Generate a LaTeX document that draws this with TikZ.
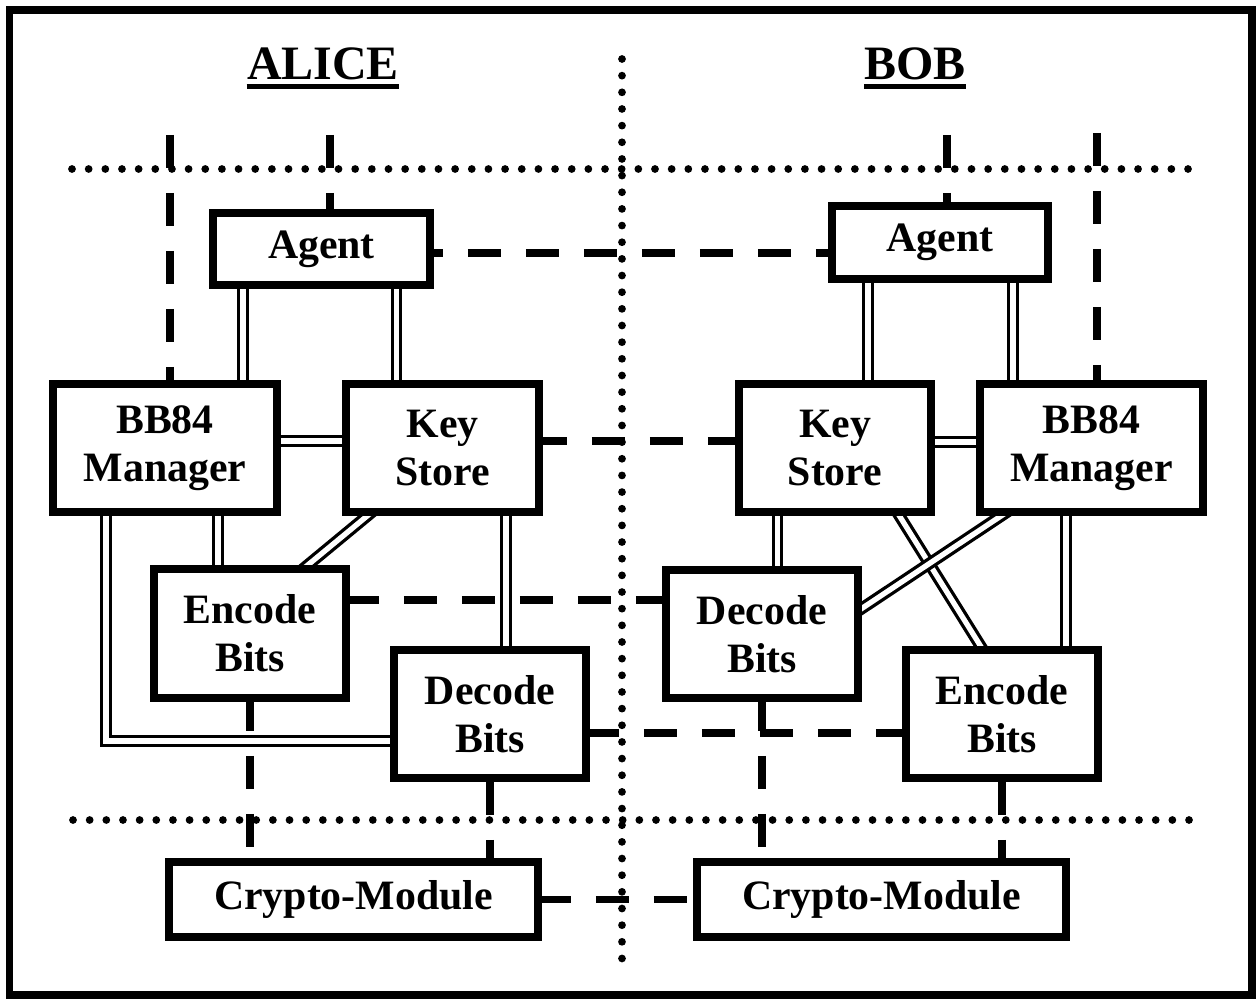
\documentclass[tikz,border=0pt]{standalone}
\usepackage{fontspec}
\setmainfont{Liberation Serif}
\usetikzlibrary{calc}
\pgfdeclarelayer{background}
\pgfsetlayers{background,main}
\begin{document}
\begin{tikzpicture}[x=0.02cm,y=-0.02cm,
  box/.style={draw,line width=0.145cm,fill=white,outer sep=0pt,inner sep=0pt,align=center,
    font=\fontsize{23.8pt}{27.3pt}\selectfont\bfseries},
  dbl/.style={double,line width=0.066cm,double distance=0.106cm,
    shorten <=-0.1cm,shorten >=-0.1cm},
  dsh/.style={line width=0.15cm,dash pattern=on 0.66cm off 0.5cm},
  dots/.style={line width=0.155cm,line cap=round,dash pattern=on 0pt off 0.3332cm},
  head/.style={font=\fontsize{27.3pt}{30pt}\selectfont\bfseries,inner sep=0pt,anchor=base}]
\useasboundingbox (0,0) rectangle (1258,1000);
\draw[line width=0.145cm] (9.5,10) rectangle (1252,995);

% headings
\node[head] (alice) at (323,80) {ALICE};
\node[head] (bob) at (915,80) {BOB};
\draw[line width=0.1cm] ($(alice.base west)+(0,6.5)$) -- ($(alice.base east)+(0,6.5)$);
\draw[line width=0.1cm] ($(bob.base west)+(0,6.5)$) -- ($(bob.base east)+(0,6.5)$);

% Alice boxes
\node[box,minimum width=4.34cm,minimum height=1.44cm] (aagent) at (321.5,249) {Agent};
\node[box,minimum width=4.48cm,minimum height=2.56cm] (abb) at (165,448) {BB84\\Manager};
\node[box,minimum width=3.86cm,minimum height=2.56cm] (aks) at (442.5,448) {Key\\Store};
\node[box,minimum width=3.84cm,minimum height=2.58cm] (aenc) at (250,633.5) {Encode\\Bits};
\node[box,minimum width=3.84cm,minimum height=2.56cm] (adec) at (490,714) {Decode\\Bits};
\node[box,minimum width=7.38cm,minimum height=1.5cm] (acr) at (353.5,899.5) {Crypto-Module};

% Bob boxes
\node[box,minimum width=4.32cm,minimum height=1.46cm] (bagent) at (940,242.5) {Agent};
\node[box,minimum width=3.84cm,minimum height=2.56cm] (bks) at (835,448) {Key\\Store};
\node[box,minimum width=4.46cm,minimum height=2.56cm] (bbb) at (1091.5,448) {BB84\\Manager};
\node[box,minimum width=3.84cm,minimum height=2.56cm] (bdec) at (762,634) {Decode\\Bits};
\node[box,minimum width=3.84cm,minimum height=2.56cm] (benc) at (1002,714) {Encode\\Bits};
\node[box,minimum width=7.38cm,minimum height=1.5cm] (bcr) at (881.5,899.5) {Crypto-Module};

\coordinate (ta1) at (170,135);
\coordinate (ta2) at (330,135);
\coordinate (tb1) at (947,135);
\coordinate (tb2) at (1097,133);

\begin{pgfonlayer}{background}
% dotted separators
\draw[dots] (72,169) -- (1189,169);
\draw[dots] (73,820) -- (1191,820);
\draw[dots] (622,59) -- (622,959);

% dashed links
\draw[dsh,dash phase=0.4cm] ($(aagent.east)+(0,4)$) -- ($(bagent.west |- aagent.east)+(0,4)$);
\draw[dsh,dash phase=0.1cm] ($(aks.east)+(0,-7)$) -- ($(bks.west)+(0,-7)$);
\draw[dsh] ($(aenc.east)+(0,-33.5)$) -- ($(bdec.west)+(0,-34)$);
\draw[dsh] ($(adec.east)+(0,19)$) -- ($(benc.west)+(0,19)$);
\draw[dsh] (acr.east) -- (bcr.west);
\draw[dsh] (ta1) -- (ta1 |- abb.north);
\draw[dsh] (ta2) -- (ta2 |- aagent.north);
\draw[dsh] (tb1) -- (tb1 |- bagent.north);
\draw[dsh] (tb2) -- (tb2 |- bbb.north);
\draw[dsh] (aenc.south) -- (aenc.south |- acr.north);
\draw[dsh] ($(adec.south)+(0,4)$) -- (adec.south |- acr.north);
\draw[dsh] (bdec.south) -- (bdec.south |- bcr.north);
\draw[dsh] ($(benc.south)+(0,4)$) -- (benc.south |- bcr.north);

% Alice double links
\draw[dbl] ($(aagent.south west)+(30,0)$) -- ($(aagent.south west |- abb.north)+(30,0)$);
\draw[dbl] ($(aagent.south east)+(-33.5,0)$) -- ($(aagent.south east |- aks.north)+(-33.5,0)$);
\draw[dbl] ($(abb.east)+(0,-7)$) -- ($(aks.west)+(0,-7)$);
\draw[dbl] ($(aenc.north west)+(64,0)$) -- ($(aenc.north west |- abb.south)+(64,0)$);
\draw[dbl] ($(abb.south west)+(53,0)$) |- ($(adec.west)+(0,27)$);
\draw[dbl] ($(aks.south west)+(26,0)$) -- ($(aenc.north east)+(-43,0)$);
\draw[dbl] ($(aks.south east)+(-33,0)$) -- ($(aks.south east |- adec.north)+(-33,0)$);

% Bob double links
\draw[dbl] ($(bagent.south west)+(36,0)$) -- ($(bagent.south west |- bks.north)+(36,0)$);
\draw[dbl] ($(bagent.south east)+(-35,0)$) -- ($(bagent.south east |- bbb.north)+(-35,0)$);
\draw[dbl] ($(bks.east)+(0,-6)$) -- ($(bbb.west)+(0,-6)$);
\draw[dbl] ($(bks.south west)+(38.5,0)$) -- ($(bks.south west |- bdec.north)+(38.5,0)$);
\draw[dbl] ($(bks.south west)+(158,0)$) -- ($(benc.north west)+(77,0)$);
\draw[dbl] ($(bbb.south west)+(27,0)$) -- ($(bdec.east)+(0,-23)$);
\draw[dbl] ($(benc.north east)+(-32,0)$) -- ($(benc.north east |- bbb.south)+(-32,0)$);
\end{pgfonlayer}
\end{tikzpicture}
\end{document}
